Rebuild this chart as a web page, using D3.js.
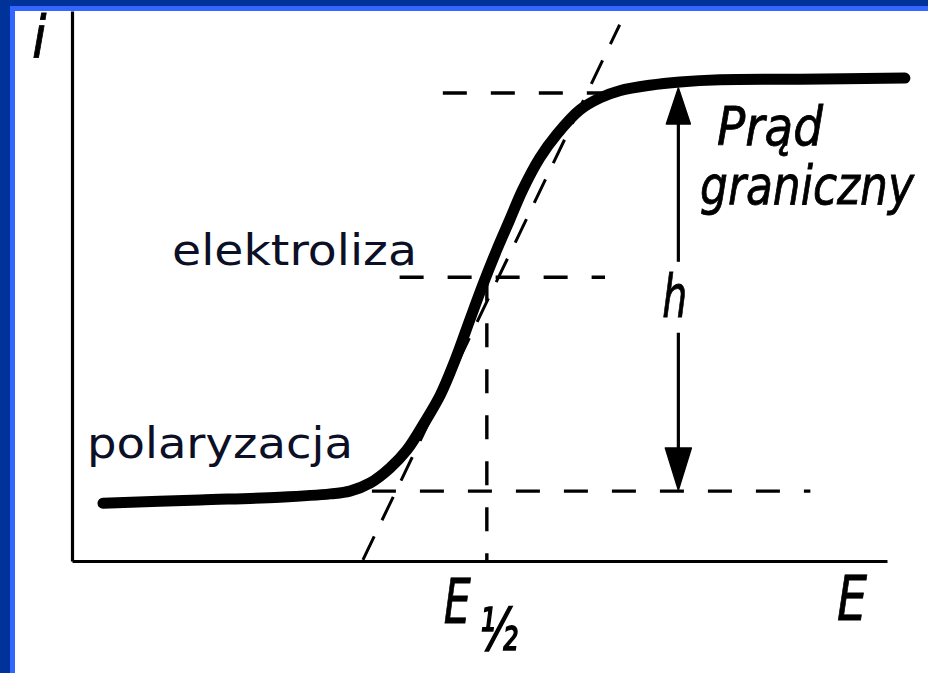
<!DOCTYPE html>
<html>
<head>
<meta charset="utf-8">
<script src="https://cdn.jsdelivr.net/npm/d3@7"></script>
<style>
  html, body { margin: 0; padding: 0; background: #ffffff; }
  svg { display: block; }
</style>
</head>
<body>
<svg id="chart" width="928" height="673"></svg>
<script>
// Polarographic wave: current i versus potential E (arbitrary units 0–100)
const curveE = [3.8, 15.7, 25.5, 31.7, 34.1, 36.6, 39.0, 41.1, 43.3, 45.2, 47.0, 48.8, 50.4,
                52.1, 53.7, 55.3, 57.4, 59.5, 62.3, 64.8, 67.2, 70.9, 74.6, 79.5, 89.3, 102.2];
const curveI = [10.5, 11.1, 11.6, 12.2, 12.7, 14.2, 16.9, 20.2, 25.3, 30.2, 36.5, 43.8, 50.2,
                56.5, 62.0, 67.5, 73.3, 77.6, 82.0, 84.2, 85.5, 86.5, 87.1, 87.5, 87.6, 87.8];

// Characteristic levels of the wave
const halfWaveE = 50.9;      // E 1/2
const halfWaveI = 51.6;
const limitI = 85.1;         // limiting current level
const baseI = 12.7;          // residual (polarisation) current level
const heightE = 74.4;        // where the wave height h is measured
const heightTop = 86.0, heightBottom = 12.9;
const heightGap = [41.5, 54.4];  // break in the h arrow for its label

// Dashed construction lines: [E0, i0, E1, i1]
const dashedLines = [
  [45.5, limitI, 65.6, limitI],
  [40.2, halfWaveI, 65.4, halfWaveI],
  [36.8, baseI, 90.6, baseI],
  [halfWaveE, halfWaveI, halfWaveE, 0]
];
const tangentLine = [35.7, 0.2, 67.2, 97.5];

const axisLabels = { i: "i", E: "E" };
const annotations = { limit: ["Prąd", "graniczny"], electrolysis: "elektroliza", polarisation: "polaryzacja", h: "h" };

const svg = d3.select("#chart");
const W = 928, H = 673;

// Slide frame: dark blue outer band, lighter inner band (top and left)
svg.append("rect").attr("x", 0).attr("y", 0).attr("width", W).attr("height", H).attr("fill", "#003399");
svg.append("rect").attr("x", 10).attr("y", 6).attr("width", W - 10).attr("height", H - 6).attr("fill", "#3366ff");
svg.append("rect").attr("x", 15).attr("y", 11).attr("width", W - 15).attr("height", H - 11).attr("fill", "#ffffff");

const x = d3.scaleLinear().domain([0, 100]).range([72, 887]);
const y = d3.scaleLinear().domain([0, 100]).range([561, 11]);

// Axes without ticks
const gx = svg.append("g").attr("transform", `translate(0,${y(0)})`)
  .call(d3.axisBottom(x).tickValues([]).tickSizeOuter(0));
const gy = svg.append("g").attr("transform", `translate(${x(0)},0)`)
  .call(d3.axisLeft(y).tickValues([]).tickSizeOuter(0));
[gx, gy].forEach(g => g.select(".domain").attr("stroke", "#000").attr("stroke-width", 3.2));

const ink = "#000";

// Dashed construction lines
const dashG = svg.append("g").attr("stroke", ink).attr("stroke-width", 3.4).attr("fill", "none");
dashedLines.forEach((d, k) => {
  dashG.append("line")
    .attr("x1", x(d[0])).attr("y1", y(d[1]))
    .attr("x2", x(d[2])).attr("y2", y(d[3]))
    .attr("stroke-dasharray", k === 3 ? "24,22" : "24,24");
});
dashG.append("line")
  .attr("x1", x(tangentLine[0])).attr("y1", y(tangentLine[1]))
  .attr("x2", x(tangentLine[2])).attr("y2", y(tangentLine[3]))
  .attr("stroke-width", 3)
  .attr("stroke-dasharray", "26,18");

// Wave height arrow h
const arrowG = svg.append("g").attr("stroke", ink).attr("stroke-width", 3.2);
const ax = x(heightE);
const headLen = 36, headHalf = 12;
arrowG.append("line")
  .attr("x1", ax).attr("x2", ax)
  .attr("y1", y(heightTop) + headLen).attr("y2", y(heightGap[1]));
arrowG.append("line")
  .attr("x1", ax).attr("x2", ax)
  .attr("y1", y(heightGap[0])).attr("y2", y(heightBottom) - headLen);
const tipTop = y(heightTop), tipBot = y(heightBottom);
svg.append("path")
  .attr("d", `M${ax},${tipTop} L${ax - headHalf},${tipTop + headLen} L${ax + headHalf},${tipTop + headLen} Z`)
  .attr("fill", ink).attr("stroke", ink).attr("stroke-width", 1.5).attr("stroke-linejoin", "round");
svg.append("path")
  .attr("d", `M${ax},${tipBot} L${ax - headHalf - 1},${tipBot - headLen - 6} L${ax + headHalf + 1},${tipBot - headLen - 6} Z`)
  .attr("fill", ink).attr("stroke", ink).attr("stroke-width", 1.5).attr("stroke-linejoin", "round");

// The wave itself
const wave = d3.line()
  .x((d, k) => x(curveE[k]))
  .y((d, k) => y(curveI[k]))
  .curve(d3.curveCatmullRom.alpha(0.5));
svg.append("path")
  .datum(curveE)
  .attr("d", wave)
  .attr("fill", "none")
  .attr("stroke", ink)
  .attr("stroke-width", 11)
  .attr("stroke-linecap", "round")
  .attr("stroke-linejoin", "round");

// Squeeze a text horizontally to a given advance width
const fitWidth = (t, px, py, len) => {
  if (!len) { t.attr("x", px).attr("y", py); return t; }
  const natural = t.node().getComputedTextLength();
  t.attr("x", 0).attr("y", 0)
   .attr("transform", `translate(${px},${py}) scale(${len / natural},1)`);
  return t;
};

// Hand-lettered labels
const handFont = "'DejaVu Sans Condensed', 'DejaVu Sans', sans-serif";
const hand = (txt, px, py, size, len, weight) => {
  const t = svg.append("text")
    .attr("font-family", handFont)
    .attr("font-style", "oblique")
    .attr("font-size", size)
    .attr("fill", ink)
    .attr("stroke", ink).attr("stroke-width", weight || 0.8)
    .text(txt);
  return fitWidth(t, px, py, len);
};
hand(axisLabels.i, x(0) - 40, y(100) + 47, 58);
hand(axisLabels.E, 837, 620, 62, 30);
hand("E", x(halfWaveE) - 43, 623, 62, 27);
// the one-half subscript of E 1/2
hand("½", x(halfWaveE) - 7, 650, 58, 38, 1.6);

hand(annotations.h, ax - 16, 317, 58, 25);
hand(annotations.limit[0], 717, 145, 54, 106);
hand(annotations.limit[1], 700, 204, 54, 214);

// Typed labels
const typed = (txt, px, py, len) => {
  const t = svg.append("text")
    .attr("font-family", "'DejaVu Sans', Verdana, sans-serif")
    .attr("font-size", 42)
    .attr("fill", "#0b1026")
    .text(txt);
  return fitWidth(t, px, py, len);
};
typed(annotations.electrolysis, 172, 265, 245);
typed(annotations.polarisation, 87, 458, 266);
</script>
</body>
</html>
